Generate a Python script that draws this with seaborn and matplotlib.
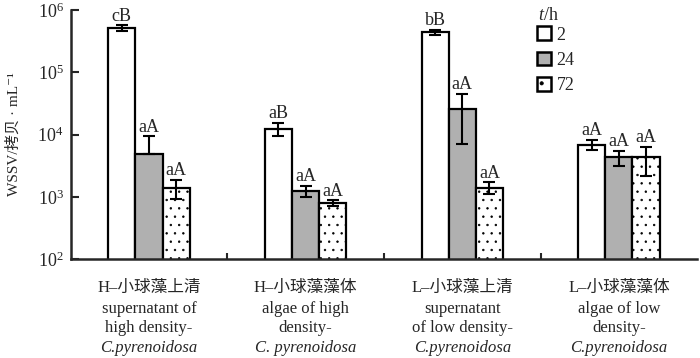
import matplotlib
matplotlib.use("Agg")
import matplotlib.pyplot as plt
from matplotlib.patches import Patch
from matplotlib.ticker import NullLocator, LogLocator
import seaborn as sns
import pandas as pd

# categories (x axis)
cn_labels = ["H–小球藻上清", "H–小球藻藻体", "L–小球藻上清", "L–小球藻藻体"]
en_line1 = ["supernatant of", "algae of high", "supernatant", "algae of low"]
en_line2 = ["high density-", "density-", "of low density-", "density-"]
species = ["C.pyrenoidosa", "C. pyrenoidosa", "C.pyrenoidosa", "C.pyrenoidosa"]

# time series (legend)
times = ["2", "24", "72"]

# WSSV copies per mL
v2 = [5.2e5, 1.25e4, 4.4e5, 6.9e3]
v24 = [4.8e3, 1.25e3, 2.6e4, 4.3e3]
v72 = [1.4e3, 8.0e2, 1.4e3, 4.3e3]

# error bars (upper / lower)
e2 = [5.0e4, 3.0e3, 4.0e4, 1.3e3]
e24 = [4.6e3, 2.5e2, 1.9e4, 1.2e3]
e24_low = [0, 2.5e2, 1.9e4, 1.2e3]
e72 = [4.8e2, 8.0e1, 3.0e2, 2.1e3]

# significance letters
let2 = ["cB", "aB", "bB", "aA"]
let24 = ["aA", "aA", "aA", "aA"]
let72 = ["aA", "aA", "aA", "aA"]

font_list = ["Liberation Serif", "Noto Sans CJK SC", "DejaVu Serif"]

sns.set_style("ticks")
plt.rcParams["font.family"] = font_list
plt.rcParams["mathtext.fontset"] = "custom"
plt.rcParams["mathtext.rm"] = "Liberation Serif"
plt.rcParams["mathtext.it"] = "Liberation Serif:italic"
plt.rcParams["hatch.linewidth"] = 0.5

df = pd.DataFrame({
    "group": cn_labels * 3,
    "time": [t for t in times for _ in cn_labels],
    "value": v2 + v24 + v72,
})

fig = plt.figure(figsize=(7, 3.58), dpi=100)
ax = fig.add_axes([0.101, 0.2765, 0.895, 0.695])

colors = {"2": "white", "24": "#b0b0b0", "72": "white"}
sns.barplot(data=df, x="group", y="value", hue="time", hue_order=times,
            palette=colors, width=0.52, edgecolor="black", linewidth=1.6,
            errorbar=None, legend=False, ax=ax, zorder=2)
ax.set_yscale("log")
ax.set_ylim(1e2, 1e6)
ax.set_xlim(-0.5, 3.5)

err_hi = [e2, e24, e72]
err_lo = [e2, e24_low, e72]
letters = [let2, let24, let72]
bar_conts = list(ax.containers)
for k, cont in enumerate(bar_conts):
    for i, bar in enumerate(cont.patches):
        if k == 2:
            bar.set_hatch("..")
        xc = bar.get_x() + bar.get_width() / 2
        h = bar.get_height()
        ax.errorbar(xc, h, yerr=[[err_lo[k][i]], [err_hi[k][i]]], fmt="none",
                    ecolor="black", elinewidth=1.5, capsize=4, capthick=1.5,
                    zorder=3)
        ax.annotate(letters[k][i], (xc, h + err_hi[k][i]), xytext=(0, 0.5),
                    textcoords="offset points", ha="center", va="bottom",
                    fontsize=13)

# axis styling
sns.despine(ax=ax)
for s in ["left", "bottom"]:
    ax.spines[s].set_linewidth(1.8)
ax.yaxis.set_major_locator(LogLocator(base=10))
ax.yaxis.set_minor_locator(NullLocator())
ax.tick_params(axis="y", direction="in", length=6, width=1.5, labelsize=13, pad=5)
ax.set_xticks([0.5, 1.5, 2.5])
ax.set_xticklabels([])
ax.tick_params(axis="x", direction="in", length=4, width=1.5)
ax.set_xlabel("")
ax.set_ylabel("WSSV/拷贝 · mL⁻¹", fontsize=11, labelpad=12)

# multi-line category labels
tr = ax.get_xaxis_transform()
for i in range(len(cn_labels)):
    ax.text(i, -0.118, cn_labels[i], transform=tr, ha="center", va="center", fontsize=12)
    ax.text(i, -0.199, en_line1[i], transform=tr, ha="center", va="center", fontsize=12)
    ax.text(i, -0.279, en_line2[i], transform=tr, ha="center", va="center", fontsize=12)
    ax.text(i, -0.356, species[i], transform=tr, ha="center", va="center",
            fontsize=12, style="italic")

handles = [Patch(facecolor=colors[t], edgecolor="black", linewidth=1.8,
                 hatch="." if t == "72" else None) for t in times]
ax.text(0.746, 0.98, "$t$/h", transform=ax.transAxes, ha="left", va="center",
        fontsize=13)
leg = ax.legend(handles, times, loc="upper left",
                bbox_to_anchor=(0.744, 0.935), frameon=False, fontsize=13,
                handlelength=0.8, handleheight=0.8, borderpad=0,
                borderaxespad=0, labelspacing=0.45, handletextpad=0.3)

fig.savefig("out.png", dpi=100)
